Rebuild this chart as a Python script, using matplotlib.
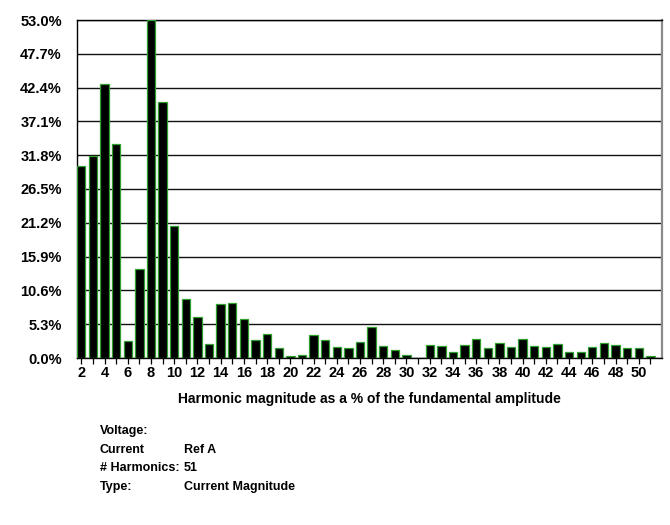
import numpy as np
import matplotlib
matplotlib.use('Agg')
import matplotlib.pyplot as plt

plt.rcParams['font.family'] = ['Liberation Sans', 'DejaVu Sans']
plt.rcParams['font.weight'] = 'bold'

# harmonic order 2..51 and magnitude in % of the fundamental
harmonics = np.arange(2, 52)
magnitude = [30.1, 31.6, 42.9, 33.6, 2.7, 13.9, 53.0, 40.1, 20.7, 9.2,
             6.5, 2.2, 8.4, 8.6, 6.1, 2.8, 3.8, 1.6, 0.3, 0.5,
             3.6, 2.9, 1.8, 1.6, 2.5, 4.8, 1.9, 1.2, 0.5, 0.0,
             2.1, 1.85, 1.0, 2.05, 3.0, 1.5, 2.35, 1.7, 3.0, 1.85,
             1.7, 2.2, 1.0, 1.0, 1.7, 2.35, 2.05, 1.5, 1.5, 0.3]
y_ticks = [0.0, 5.3, 10.6, 15.9, 21.2, 26.5, 31.8, 37.1, 42.4, 47.7, 53.0]
x_labels = list(range(2, 51, 2))

info_keys = ['Voltage:', 'Current', '# Harmonics:', 'Type:']
info_vals = ['', 'Ref A', '51', 'Current Magnitude']

fig = plt.figure(figsize=(6.7, 5.25), dpi=100)
ax = fig.add_axes([77/670, 1-358/525, (662-77)/670, (358-20)/525])

ax.bar(harmonics, magnitude, width=0.72, color='black',
       edgecolor='#2f9f2f', linewidth=0.9, zorder=3)

ax.set_ylim(0, 53.0)
ax.set_xlim(2 - 0.37, 52.0)
ax.set_yticks(y_ticks)
ax.set_yticklabels(['%.1f%%' % v for v in y_ticks], fontsize=10.5)
ax.tick_params(axis='y', length=0, pad=11)
ax.yaxis.grid(True, color='#111111', linewidth=1.0, zorder=1)

ax.set_xticks(harmonics)
ax.set_xticklabels([str(h) if h in x_labels else '' for h in harmonics], fontsize=10.5)
ax.tick_params(axis='x', direction='out', length=4, width=0.9, pad=1.5)

for side in ['left', 'top', 'bottom']:
    ax.spines[side].set_color('black')
    ax.spines[side].set_linewidth(1.0)
ax.spines['right'].set_color('#8a8a8a')
ax.spines['right'].set_linewidth(1.6)

fig.text((77 + 662) / 2 / 670, 1 - 399/525,
         'Harmonic magnitude as a % of the fundamental amplitude',
         ha='center', va='center', fontsize=10)

# info block under the chart
for i, (k, v) in enumerate(zip(info_keys, info_vals)):
    yy = 1 - (431 + i * 18.7) / 525
    fig.text(100/670, yy, k, ha='left', va='center', fontsize=9)
    fig.text(184/670, yy, v, ha='left', va='center', fontsize=9)

fig.savefig('out.png', dpi=100)
